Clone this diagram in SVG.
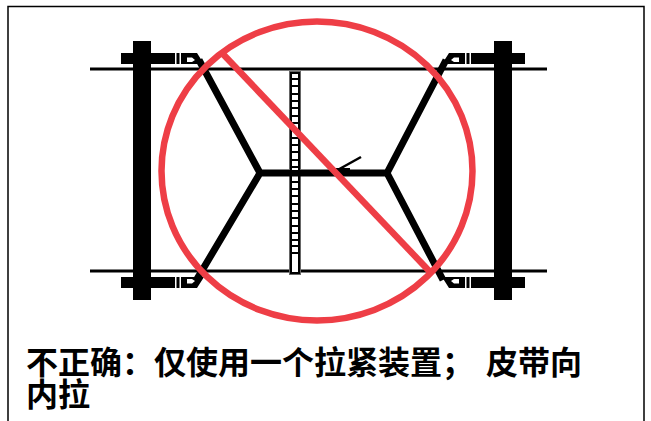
<svg xmlns="http://www.w3.org/2000/svg" width="651" height="421" viewBox="0 0 651 421">
<defs><style>
.b{stroke:#000;fill:none}
.t{font-family:"Noto Sans CJK SC","Liberation Sans",sans-serif;font-weight:700;font-size:32px;fill:#000}
.r{stroke:#ee3e46;fill:none;stroke-width:6.500}
</style>
<g id="clamp"><rect x="121" y="53" width="54" height="11" fill="#000"/><rect x="176.500" y="53" width="3" height="11" fill="#000"/><path d="M181 53H197L204 64H181Z M187 57.500H192L195 60L192 62H187Z" fill="#000" fill-rule="evenodd"/></g>
</defs>
<path class="b" stroke-width="1.500" d="M8 421V6.500H644V421"/>
<g id="connectors">
<path class="b" stroke-width="3" d="M90 69H547M90 271H547"/>
<path class="b" stroke-width="7" d="M199 60L260 173H387L446 60M260 173L197 279M387 173L443 280"/>
<path class="b" stroke-width="2.500" d="M361 157L334 172"/>
<rect x="330" y="168" width="20" height="5" fill="#000"/>
</g>
<g id="post-left"><rect x="133" y="41" width="18" height="259" fill="#000"/><use href="#clamp"/><use href="#clamp" transform="matrix(1 0 0 -1 0 341)"/></g>
<g id="post-right"><rect x="494" y="41" width="18" height="259" fill="#000"/><use href="#clamp" transform="matrix(-1 0 0 1 646 0)"/><use href="#clamp" transform="matrix(-1 0 0 -1 646 341)"/></g>
<g id="ladder"><rect x="289.500" y="71.500" width="11" height="203" fill="#fff" stroke="#666" stroke-width="1"/><rect x="291" y="73" width="8" height="200" fill="#fff" stroke="#000" stroke-width="2"/>
<path class="b" stroke-width="2" d="M290 79H300M290 86H300M290 94H300M290 101H300M290 108H300M290 116H300M290 123H300M290 130H300M290 138H300M290 145H300M290 152H300M290 160H300M290 167H300M290 182H300M290 189H300M290 196H300M290 204H300M290 211H300M290 218H300M290 226H300M290 233H300M290 240H300M290 246H300M290 253H300"/>
<rect x="289" y="170" width="12" height="6.500" fill="#000"/></g>
<g id="prohibition"><ellipse class="r" cx="317" cy="171" rx="155.500" ry="149.500"/><path class="r" d="M222 53L432 274"/></g>
<text class="t" x="26" y="374">不正确&#xFF1A;仅使用一个拉紧装置&#xFF1B; <tspan x="486">皮带向</tspan></text>
<text class="t" x="26" y="406">内拉</text>
</svg>
